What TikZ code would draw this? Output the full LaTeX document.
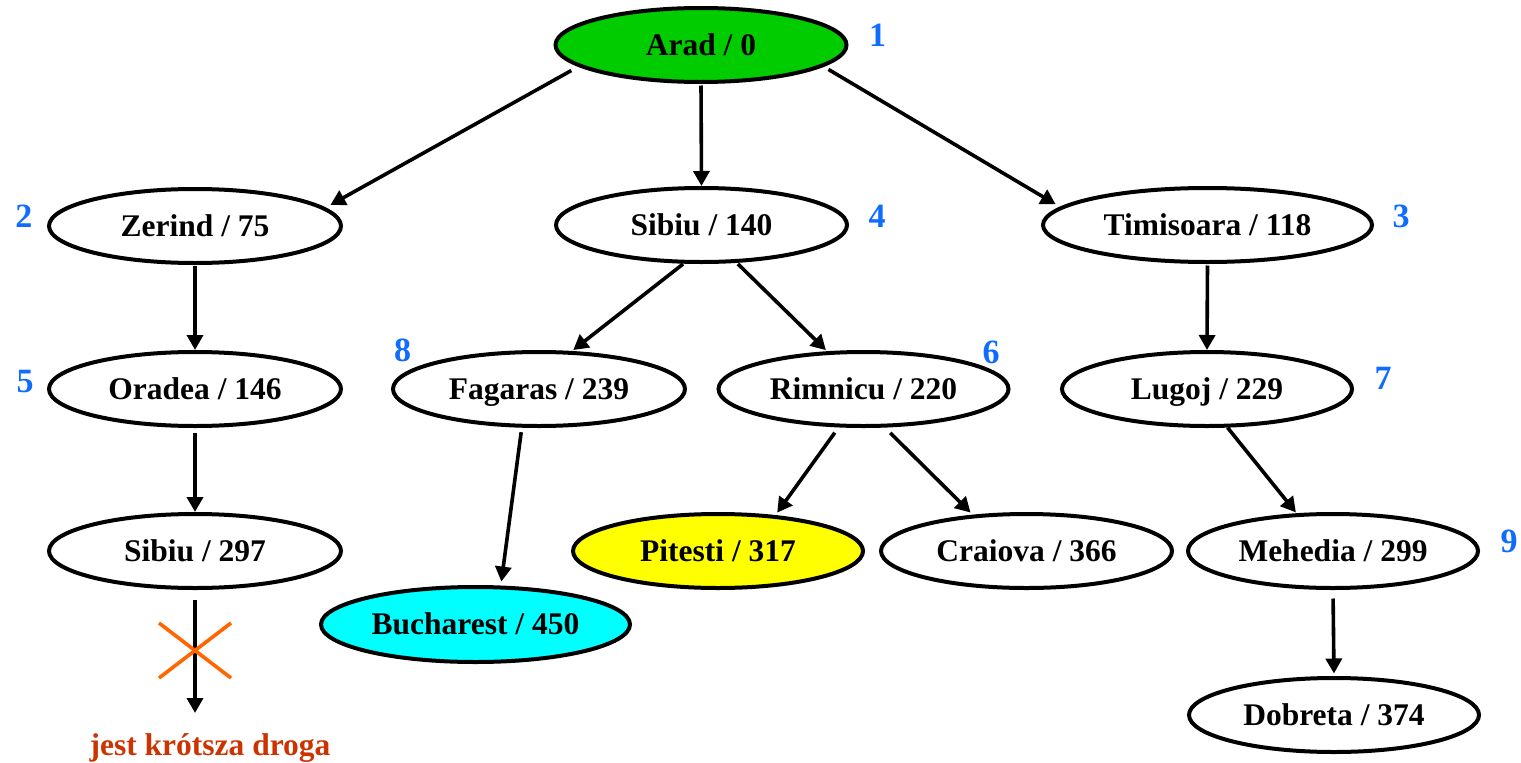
\documentclass[tikz,border=0pt]{standalone}
\usepackage{fontspec}
\setmainfont{Liberation Serif}
\usetikzlibrary{shapes.geometric,arrows.meta}

\definecolor{aradgreen}{RGB}{0,204,0}
\definecolor{goalcyan}{RGB}{0,255,255}
\definecolor{bestyellow}{RGB}{255,255,0}
\definecolor{ordblue}{RGB}{16,108,255}
\definecolor{cutorange}{RGB}{255,102,0}
\definecolor{noterust}{RGB}{204,51,0}

\newcommand\citysize{\fontsize{31.5}{36}\selectfont}
\newcommand\ordsize{\fontsize{34}{38}\selectfont}

\tikzset{
  city/.style={ellipse, draw, line width=4pt, fill=white, inner sep=0pt,
    minimum width=291pt, minimum height=74pt,
    font=\citysize\bfseries, text height=20.8pt, text depth=0pt},
  edge/.style={line width=3.6pt, -{Triangle[length=15pt,width=16pt]}},
  order/.style={text=ordblue, font=\ordsize\bfseries, inner sep=0pt},
  crossline/.style={cutorange, line width=3.6pt},
}

\begin{document}
\begin{tikzpicture}[x=1pt, y=-1pt]
  \useasboundingbox (0,0) rectangle (1521,763);

  % search tree nodes: city / path cost
  \node[city, fill=aradgreen] (arad) at (701,45) {Arad / 0};
  \node[city, minimum width=292pt] (zerind) at (195,226) {Zerind / 75};
  \node[city] (sibiuA) at (701.5,225) {Sibiu / 140};
  \node[city, minimum width=329pt] (timisoara) at (1207.5,225) {Timisoara / 118};
  \node[city, minimum width=292pt] (oradea) at (195,389) {Oradea / 146};
  \node[city, minimum width=292pt] (fagaras) at (539,389) {Fagaras / 239};
  \node[city, minimum width=290pt] (rimnicu) at (863.5,389) {Rimnicu / 220};
  \node[city, minimum width=290pt] (lugoj) at (1207,389) {Lugoj / 229};
  \node[city, minimum width=292pt] (sibiuB) at (195,551) {Sibiu / 297};
  \node[city, minimum width=290pt, fill=bestyellow] (pitesti) at (718,551) {Pitesti / 317};
  \node[city] (craiova) at (1026.5,551) {Craiova / 366};
  \node[city, minimum width=290pt] (mehedia) at (1333,551) {Mehedia / 299};
  \node[city, minimum width=309pt, minimum height=75pt, fill=goalcyan] (bucharest) at (475.5,624.5) {Bucharest / 450};
  \node[city, minimum width=290pt] (dobreta) at (1334,715) {Dobreta / 374};

  % expansion order
  \node[order] (o1) at (877.5,35) {1};
  \node[order] (o2) at (24,216) {2};
  \node[order] (o3) at (1401,216) {3};
  \node[order] (o4) at (877,216.5) {4};
  \node[order] (o5) at (25,382) {5};
  \node[order] (o6) at (991,352) {6};
  \node[order] (o7) at (1383,378) {7};
  \node[order] (o8) at (402.5,350.5) {8};
  \node[order] (o9) at (1509,541) {9};

  % tree edges
  \draw[edge, shorten <=8pt, shorten >=5.5pt] (arad.190) -- (zerind.8);
  \draw[edge, shorten <=1.5pt] (arad.south) -- (sibiuA.north);
  \draw[edge, shorten <=5.5pt, shorten >=5pt] (arad.350) -- (timisoara.173);
  \draw[edge, shorten <=0.5pt] (zerind.south) -- (oradea.north);
  \draw[edge, shorten <=0.5pt, shorten >=1.5pt] (sibiuA.245) -- (fagaras.49);
  \draw[edge, shorten <=1.5pt, shorten >=1.5pt] (sibiuA.313) -- (rimnicu.134);
  \draw[edge, shorten <=1.5pt] (timisoara.south) -- (lugoj.north);
  \draw[edge, shorten <=4.5pt] (oradea.south) -- (sibiuB.north);
  \draw[edge, shorten <=4.5pt, shorten >=4pt] (fagaras.246) -- (bucharest.57);
  \draw[edge, shorten <=6.5pt, shorten >=3pt] (rimnicu.237) -- (pitesti.32);
  \draw[edge, shorten <=7.5pt, shorten >=3pt] (rimnicu.299) -- (craiova.146);
  \draw[edge, shorten >=1pt] (lugoj.298) -- (mehedia.134);
  \draw[edge, shorten <=8.5pt, shorten >=2.5pt] (mehedia.south) -- (dobreta.north);

  % pruned branch
  \coordinate (stop) at (195,713);
  \coordinate (cut) at (195,650.5);
  \draw[edge, shorten <=9.5pt] (sibiuB.south) -- (stop);
  \draw[crossline] (cut) ++(-36,-27.5) -- ++(72,55);
  \draw[crossline] (cut) ++(-36,27.5) -- ++(72,-55);
  \node[anchor=base, text=noterust, font=\citysize\bfseries, inner sep=0pt] (note) at (210,755) {jest krótsza droga};
\end{tikzpicture}
\end{document}
